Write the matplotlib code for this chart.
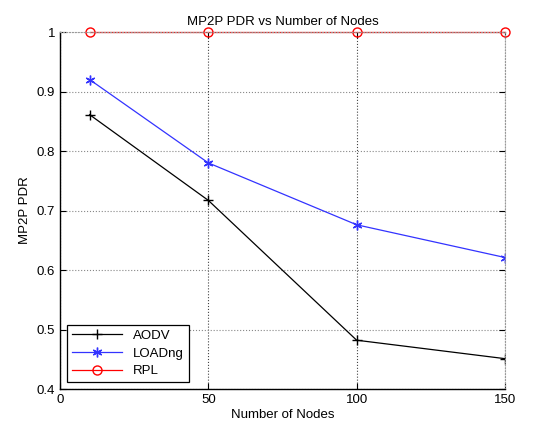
import matplotlib
matplotlib.use("Agg")
from matplotlib import pyplot as plt

nodes = [10, 50, 100, 150]
aodv = [0.861, 0.717, 0.482, 0.451]
loadng = [0.920, 0.780, 0.676, 0.621]
rpl = [1.0, 1.0, 1.0, 1.0]

plt.rcParams['font.family'] = ['Liberation Sans', 'DejaVu Sans']
plt.rcParams['font.size'] = 9.5

fig = plt.figure(figsize=(5.48, 4.25), dpi=100)
ax = fig.add_axes([0.1095, 0.0847, 0.812, 0.84])

ax.plot(nodes, aodv, color='black', marker='+', markersize=7, linewidth=0.9, label='AODV')
ax.plot(nodes, loadng, color='#3333ff', marker=(6, 2, 0), markersize=7, linewidth=0.9, label='LOADng')
ax.plot(nodes, rpl, color='red', marker='o', markersize=6.5, markerfacecolor='none', linewidth=0.9, label='RPL', clip_on=False)

ax.set_xlim(0, 150)
ax.set_ylim(0.4, 1.0)
ax.set_xticks([0, 50, 100, 150])
ax.set_yticks([0.4, 0.5, 0.6, 0.7, 0.8, 0.9, 1.0])
ax.set_yticklabels(['0.4', '0.5', '0.6', '0.7', '0.8', '0.9', '1'])
ax.grid(True, axis='x', linestyle=':', color='#444444', linewidth=0.8)
ax.grid(True, axis='y', linestyle=':', color='#888888', linewidth=0.8)
ax.tick_params(direction='in', length=4, top=True, right=True, width=0.8)
for side in ['left', 'bottom']:
    ax.spines[side].set_linewidth(1.0)
for side in ['top', 'right']:
    ax.spines[side].set_color('#999999')
    ax.spines[side].set_linestyle(':')

ax.set_title('MP2P PDR vs Number of Nodes', fontsize=9.5, pad=5)
ax.set_xlabel('Number of Nodes', labelpad=2)
ax.set_ylabel('MP2P PDR', labelpad=4)

leg = ax.legend(loc='lower left', fancybox=False, edgecolor='black', framealpha=1,
                handlelength=3.8, borderaxespad=0.5, labelspacing=0.4)
leg.get_frame().set_linewidth(0.9)

fig.savefig('out.png', dpi=100)
